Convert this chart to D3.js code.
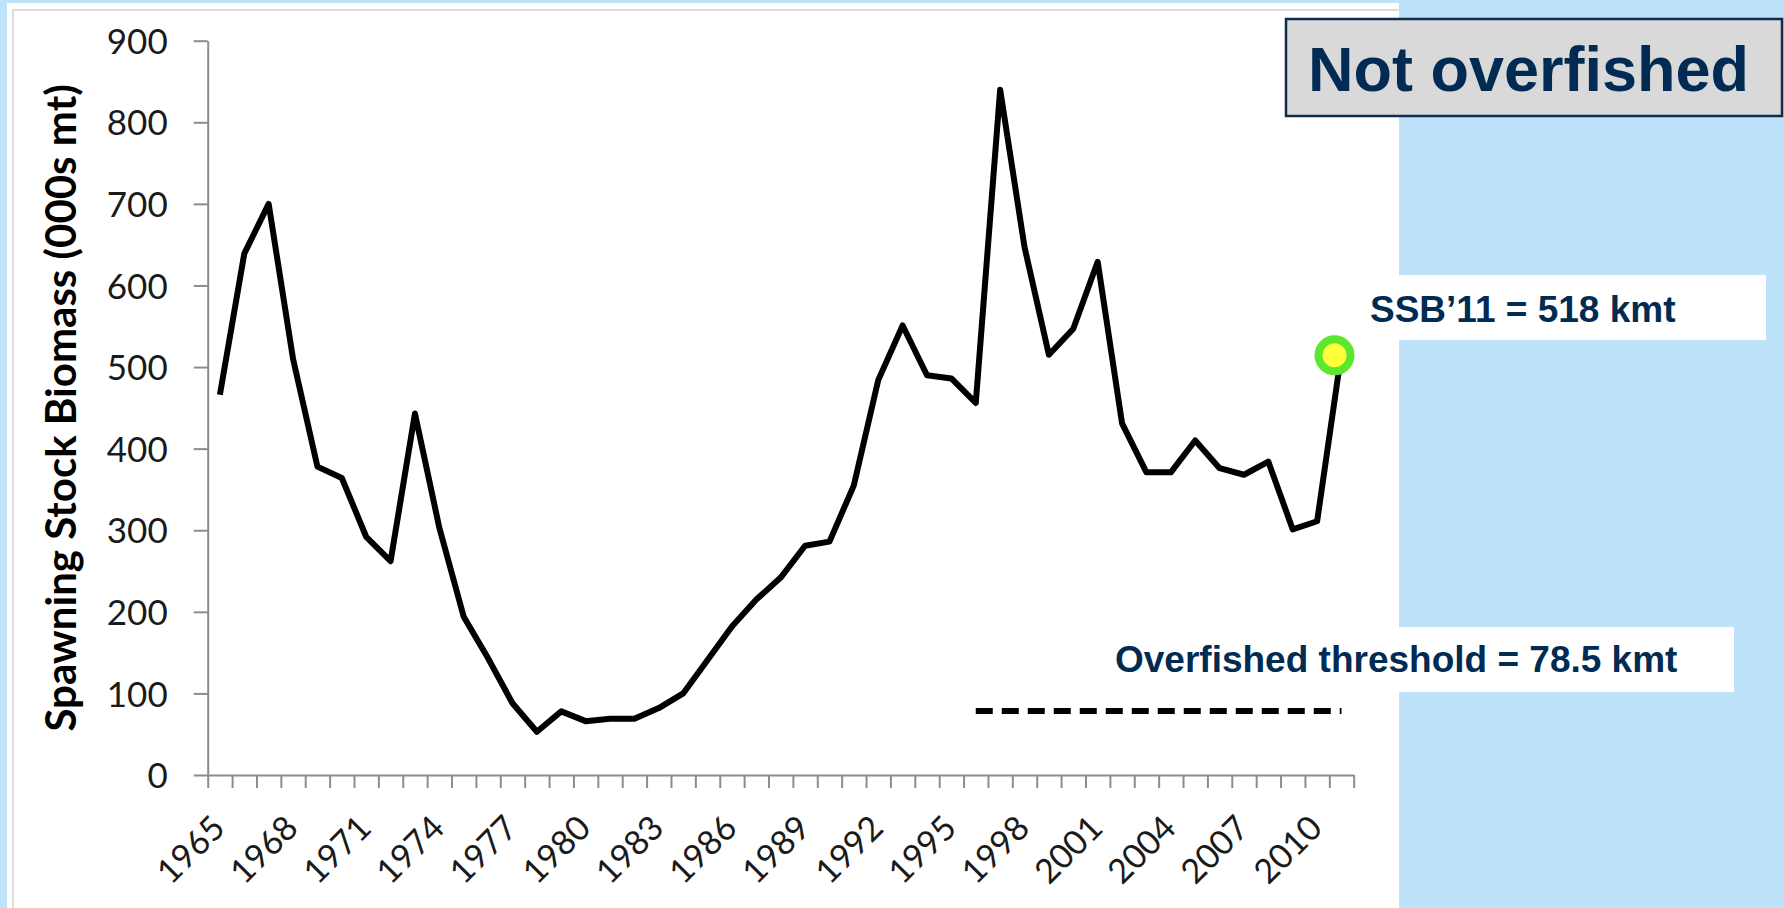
<!DOCTYPE html>
<html>
<head>
<meta charset="utf-8">
<script src="https://cdn.jsdelivr.net/npm/d3@7"></script>
<style>
  body { margin: 0; background: #bee2f9; }
  svg { display: block; }
</style>
</head>
<body>
<svg id="chart" width="1784" height="908"></svg>
<script>
// categories (one per year)
const years = [1965, 1966, 1967, 1968, 1969, 1970, 1971, 1972, 1973, 1974,
               1975, 1976, 1977, 1978, 1979, 1980, 1981, 1982, 1983, 1984,
               1985, 1986, 1987, 1988, 1989, 1990, 1991, 1992, 1993, 1994,
               1995, 1996, 1997, 1998, 1999, 2000, 2001, 2002, 2003, 2004,
               2005, 2006, 2007, 2008, 2009, 2010, 2011];

// spawning stock biomass, 000s mt
const ssb = [466, 639, 700, 510, 378, 364, 292, 262, 443, 303,
             194, 143, 88, 53, 78, 66, 69, 69, 82, 100,
             141, 182, 215, 242, 281, 286, 355, 484, 551, 490,
             486, 456, 840, 647, 515, 547, 629, 431, 371, 371,
             410, 376, 368, 384, 301, 311, 518];

// overfished threshold line
const thresholdYears = [1996, 1997, 1998, 1999, 2000, 2001, 2002, 2003,
                        2004, 2005, 2006, 2007, 2008, 2009, 2010, 2011];
const thresholdValue = 78.5;

// tick labels
const yTicks = [0, 100, 200, 300, 400, 500, 600, 700, 800, 900];
const xLabelYears = [1965, 1968, 1971, 1974, 1977, 1980, 1983, 1986,
                     1989, 1992, 1995, 1998, 2001, 2004, 2007, 2010];

const lastYear = 2011;
const lastValue = 518;

const navy = "#022b53";
const svg = d3.select("#chart");

// white chart panel and its faint border
svg.append("rect")
    .attr("x", 7).attr("y", 3)
    .attr("width", 1392).attr("height", 905)
    .attr("fill", "#fff");
svg.append("path")
    .attr("d", "M13,908V10H1399")
    .attr("fill", "none")
    .attr("stroke", "#dcdcdc")
    .attr("stroke-width", 2);

// scales
const x = d3.scaleBand()
    .domain(years)
    .range([207.7, 1353.7]);
const xc = d => x(d) + x.bandwidth() / 2;

const y = d3.scaleLinear()
    .domain([0, 900])
    .range([775, 40.7]);

// x axis: tick marks on category boundaries
const xEdge = d3.scaleLinear()
    .domain([0, years.length])
    .range(x.range());

svg.append("g")
    .attr("transform", `translate(0,${y(0)})`)
    .call(d3.axisBottom(xEdge)
        .tickValues(d3.range(years.length + 1))
        .tickSize(13)
        .tickSizeOuter(0)
        .tickFormat(""));

// y axis
const yAxis = svg.append("g")
    .attr("transform", `translate(${x.range()[0]},0)`)
    .call(d3.axisLeft(y)
        .tickValues(yTicks)
        .tickSize(14)
        .tickSizeOuter(0)
        .tickPadding(26));

svg.selectAll(".domain, .tick line")
    .attr("stroke", "#8c8c8c")
    .attr("stroke-width", 2);

yAxis.selectAll("text")
    .attr("dy", "0.36em")
    .attr("fill", "#1a1a1a")
    .style("font-family", "Lato, sans-serif")
    .style("font-size", "35px");

// rotated year labels
svg.append("g")
    .selectAll("text")
    .data(xLabelYears)
    .join("text")
      .attr("transform", d => `translate(${xc(d) + 7},${y(0) + 55}) rotate(-45)`)
      .attr("text-anchor", "end")
      .attr("fill", "#1a1a1a")
      .style("font-family", "Lato, sans-serif")
      .style("font-size", "34px")
      .text(d => d);

// y axis title
svg.append("text")
    .attr("transform", `translate(76,${(y(0) + y(900)) / 2}) rotate(-90)`)
    .attr("text-anchor", "middle")
    .attr("fill", "#000")
    .style("font-family", "Lato, sans-serif")
    .style("font-weight", "bold")
    .style("font-size", "42px")
    .text("Spawning Stock Biomass (000s mt)");

// SSB line
const line = d3.line()
    .x(d => xc(d[0]))
    .y(d => y(d[1]));

svg.append("path")
    .datum(years.map((yr, i) => [yr, ssb[i]]))
    .attr("d", line)
    .attr("fill", "none")
    .attr("stroke", "#000")
    .attr("stroke-width", 6)
    .attr("stroke-linejoin", "round");

// threshold line
svg.append("path")
    .datum(thresholdYears.map(yr => [yr, thresholdValue]))
    .attr("d", line)
    .attr("fill", "none")
    .attr("stroke", "#000")
    .attr("stroke-width", 6)
    .attr("stroke-dasharray", "17 9");

// annotation boxes
const font = "'Liberation Sans', Arial, sans-serif";

svg.append("rect")
    .attr("x", 1286).attr("y", 19)
    .attr("width", 496).attr("height", 97)
    .attr("fill", "#d9d9d9")
    .attr("stroke", "#0e2c4e")
    .attr("stroke-width", 2.5);
svg.append("text")
    .attr("x", 1308).attr("y", 91)
    .attr("fill", navy)
    .style("font-family", font)
    .style("font-weight", "bold")
    .style("font-size", "63px")
    .text("Not overfished");

svg.append("rect")
    .attr("x", 1360).attr("y", 275)
    .attr("width", 406).attr("height", 65)
    .attr("fill", "#fff");
svg.append("text")
    .attr("x", 1370).attr("y", 321.5)
    .attr("fill", navy)
    .style("font-family", font)
    .style("font-weight", "bold")
    .style("font-size", "37px")
    .text("SSB\u201911 = 518 kmt");

svg.append("rect")
    .attr("x", 1100).attr("y", 627)
    .attr("width", 634).attr("height", 65)
    .attr("fill", "#fff");
svg.append("text")
    .attr("x", 1115).attr("y", 672)
    .attr("fill", navy)
    .style("font-family", font)
    .style("font-weight", "bold")
    .style("font-size", "37px")
    .text("Overfished threshold = 78.5 kmt");

// highlighted last point
svg.append("circle")
    .attr("cx", xc(lastYear) - 7)
    .attr("cy", y(lastValue) + 3)
    .attr("r", 16)
    .attr("fill", "#ffff3a")
    .attr("stroke", "#5ce62e")
    .attr("stroke-width", 8);
</script>
</body>
</html>
